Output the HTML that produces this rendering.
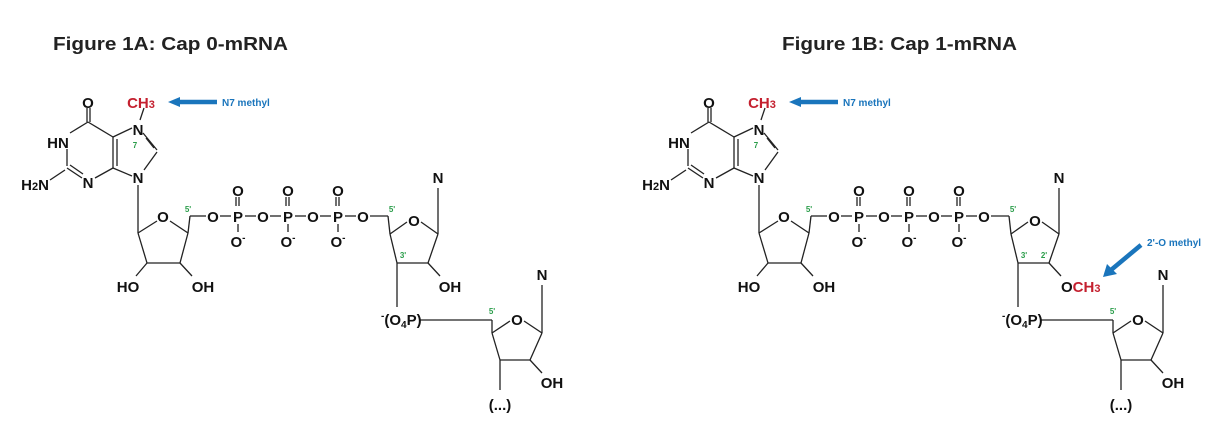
<!DOCTYPE html>
<html><head><meta charset="utf-8"><style>
html,body{margin:0;padding:0;background:#fff;}
svg{display:block;}
text{font-family:"Liberation Sans",Arial,sans-serif;}
.a{font-size:15px;font-weight:bold;fill:#111;}
.g{font-size:8px;font-weight:bold;fill:#2a9d4a;}
.b{font-size:10px;font-weight:bold;fill:#1a75bc;}
.r{fill:#c4202f;}
line,polyline,polygon{stroke:#222;stroke-width:1.3;fill:none;}
</style></head><body>
<svg width="1227" height="429" viewBox="0 0 1227 429" xmlns="http://www.w3.org/2000/svg">
<defs>
<g id="core">
  <line x1="87" y1="108" x2="87" y2="122"/>
  <line x1="90" y1="108" x2="90" y2="122"/>
  <line x1="88" y1="122" x2="113" y2="137"/>
  <line x1="88" y1="122" x2="70" y2="133"/>
  <line x1="67" y1="149" x2="67" y2="166"/>
  <line x1="67" y1="168" x2="82" y2="178"/>
  <line x1="70" y1="165" x2="83" y2="174"/>
  <line x1="95" y1="178" x2="113" y2="168"/>
  <line x1="113" y1="168" x2="113" y2="137"/>
  <line x1="117" y1="166" x2="117" y2="139"/>
  <line x1="113" y1="137" x2="132" y2="128"/>
  <line x1="113" y1="168" x2="132" y2="176"/>
  <line x1="143" y1="133" x2="157" y2="150"/>
  <line x1="146" y1="138" x2="154" y2="148"/>
  <line x1="157" y1="152" x2="144" y2="170"/>
  <line x1="140" y1="120" x2="144" y2="108"/>
  <line x1="50" y1="180" x2="65" y2="170"/>
  <line x1="138" y1="185" x2="138" y2="233"/>
  <line x1="138" y1="233" x2="157" y2="221"/>
  <line x1="170" y1="221" x2="188" y2="233"/>
  <line x1="188" y1="233" x2="180" y2="263"/>
  <line x1="180" y1="263" x2="147" y2="263"/>
  <line x1="147" y1="263" x2="138" y2="233"/>
  <line x1="147" y1="263" x2="136" y2="276"/>
  <line x1="180" y1="263" x2="192" y2="276"/>
  <line x1="188" y1="233" x2="190" y2="216"/>
  <line x1="190" y1="216" x2="206" y2="216"/>
  <line x1="220" y1="216" x2="231" y2="216"/>
  <line x1="245" y1="216" x2="256" y2="216"/>
  <line x1="270" y1="216" x2="281" y2="216"/>
  <line x1="295" y1="216" x2="306" y2="216"/>
  <line x1="320" y1="216" x2="331" y2="216"/>
  <line x1="345" y1="216" x2="356" y2="216"/>
  <line x1="236" y1="197" x2="236" y2="206"/><line x1="239" y1="197" x2="239" y2="206"/>
  <line x1="286" y1="197" x2="286" y2="206"/><line x1="289" y1="197" x2="289" y2="206"/>
  <line x1="336" y1="197" x2="336" y2="206"/><line x1="339" y1="197" x2="339" y2="206"/>
  <line x1="238" y1="224" x2="238" y2="232"/>
  <line x1="288" y1="224" x2="288" y2="232"/>
  <line x1="338" y1="224" x2="338" y2="232"/>
  <line x1="370" y1="216" x2="388" y2="216"/>
  <line x1="388" y1="216" x2="390" y2="234"/>
  <line x1="390" y1="234" x2="407" y2="222"/>
  <line x1="421" y1="222" x2="438" y2="234"/>
  <line x1="438" y1="234" x2="438" y2="188"/>
  <line x1="438" y1="234" x2="428" y2="263"/>
  <line x1="428" y1="263" x2="397" y2="263"/>
  <line x1="397" y1="263" x2="390" y2="234"/>
  <line x1="397" y1="263" x2="397" y2="307"/>
  <line x1="420" y1="320" x2="492" y2="320"/>
  <line x1="492" y1="320" x2="492" y2="333"/>
  <line x1="492" y1="333" x2="510" y2="321"/>
  <line x1="524" y1="321" x2="542" y2="333"/>
  <line x1="542" y1="333" x2="542" y2="285"/>
  <line x1="542" y1="333" x2="530" y2="360"/>
  <line x1="530" y1="360" x2="500" y2="360"/>
  <line x1="500" y1="360" x2="492" y2="333"/>
  <line x1="530" y1="360" x2="542" y2="373"/>
  <line x1="500" y1="360" x2="500" y2="390"/>
  <text class="a" x="88" y="108" text-anchor="middle">O</text>
  <text class="a" x="58" y="148" text-anchor="middle">HN</text>
  <text class="a" x="35" y="190" text-anchor="middle">H<tspan font-size="11">2</tspan>N</text>
  <text class="a" x="88" y="188" text-anchor="middle">N</text>
  <text class="a" x="138" y="135" text-anchor="middle">N</text>
  <text class="a" x="138" y="183" text-anchor="middle">N</text>
  <text class="a r" x="141" y="108" text-anchor="middle">CH<tspan font-size="11">3</tspan></text>
  <text class="g" x="135" y="148" text-anchor="middle">7</text>
  <text class="a" x="163" y="222" text-anchor="middle">O</text>
  <text class="g" x="188" y="212" text-anchor="middle">5'</text>
  <text class="a" x="213" y="222" text-anchor="middle">O</text>
  <text class="a" x="238" y="222" text-anchor="middle">P</text>
  <text class="a" x="263" y="222" text-anchor="middle">O</text>
  <text class="a" x="288" y="222" text-anchor="middle">P</text>
  <text class="a" x="313" y="222" text-anchor="middle">O</text>
  <text class="a" x="338" y="222" text-anchor="middle">P</text>
  <text class="a" x="363" y="222" text-anchor="middle">O</text>
  <text class="a" x="238" y="196" text-anchor="middle">O</text>
  <text class="a" x="288" y="196" text-anchor="middle">O</text>
  <text class="a" x="338" y="196" text-anchor="middle">O</text>
  <text class="a" x="238" y="247" text-anchor="middle">O<tspan font-size="10" dy="-6">-</tspan></text>
  <text class="a" x="288" y="247" text-anchor="middle">O<tspan font-size="10" dy="-6">-</tspan></text>
  <text class="a" x="338" y="247" text-anchor="middle">O<tspan font-size="10" dy="-6">-</tspan></text>
  <text class="g" x="392" y="212" text-anchor="middle">5'</text>
  <text class="a" x="414" y="226" text-anchor="middle">O</text>
  <text class="a" x="438" y="183" text-anchor="middle">N</text>
  <text class="a" x="542" y="280" text-anchor="middle">N</text>
  <text class="a" x="381" y="325"><tspan font-size="10" dy="-6">-</tspan><tspan dy="6">(O</tspan><tspan font-size="10" dy="3">4</tspan><tspan dy="-3">P)</tspan></text>
  <text class="g" x="492" y="314" text-anchor="middle">5'</text>
  <text class="a" x="517" y="325" text-anchor="middle">O</text>
  <text class="a" x="552" y="388" text-anchor="middle">OH</text>
  <text class="a" x="500" y="410" text-anchor="middle">(...)</text>
  <text class="a" x="128" y="292" text-anchor="middle">HO</text>
  <line x1="217" y1="102" x2="178" y2="102" style="stroke:#1a75bc;stroke-width:4.5"/>
  <polygon points="168,102 180,97 180,107" style="fill:#1a75bc;stroke:none"/>
  <text class="b" x="222" y="106">N7 methyl</text>
</g>
</defs>

<text x="53" y="50" font-size="18" font-weight="bold" fill="#222" textLength="235" lengthAdjust="spacingAndGlyphs">Figure 1A: Cap 0-mRNA</text>
<text x="782" y="50" font-size="18" font-weight="bold" fill="#222" textLength="235" lengthAdjust="spacingAndGlyphs">Figure 1B: Cap 1-mRNA</text>

<use href="#core"/>
<text class="a" x="203" y="292" text-anchor="middle">OH</text>
<line x1="428" y1="263" x2="440" y2="276"/>
<text class="a" x="450" y="292" text-anchor="middle">OH</text>
<text class="g" x="403" y="258" text-anchor="middle">3'</text>

<g transform="translate(621,0)">
<use href="#core"/>
<text class="a" x="203" y="292" text-anchor="middle">OH</text>
<line x1="428" y1="263" x2="440" y2="276"/>
<text class="a" x="440" y="292">O<tspan class="r">CH<tspan font-size="11">3</tspan></tspan></text>
<text class="g" x="403" y="258" text-anchor="middle">3'</text>
<text class="g" x="423" y="258" text-anchor="middle">2'</text>
<line x1="520" y1="245" x2="490" y2="270" style="stroke:#1a75bc;stroke-width:4.5"/>
<polygon points="482,277 486,264 496,274" style="fill:#1a75bc;stroke:none"/>
<text class="b" x="526" y="246">2'-O methyl</text>
</g>
</svg>
</body></html>
